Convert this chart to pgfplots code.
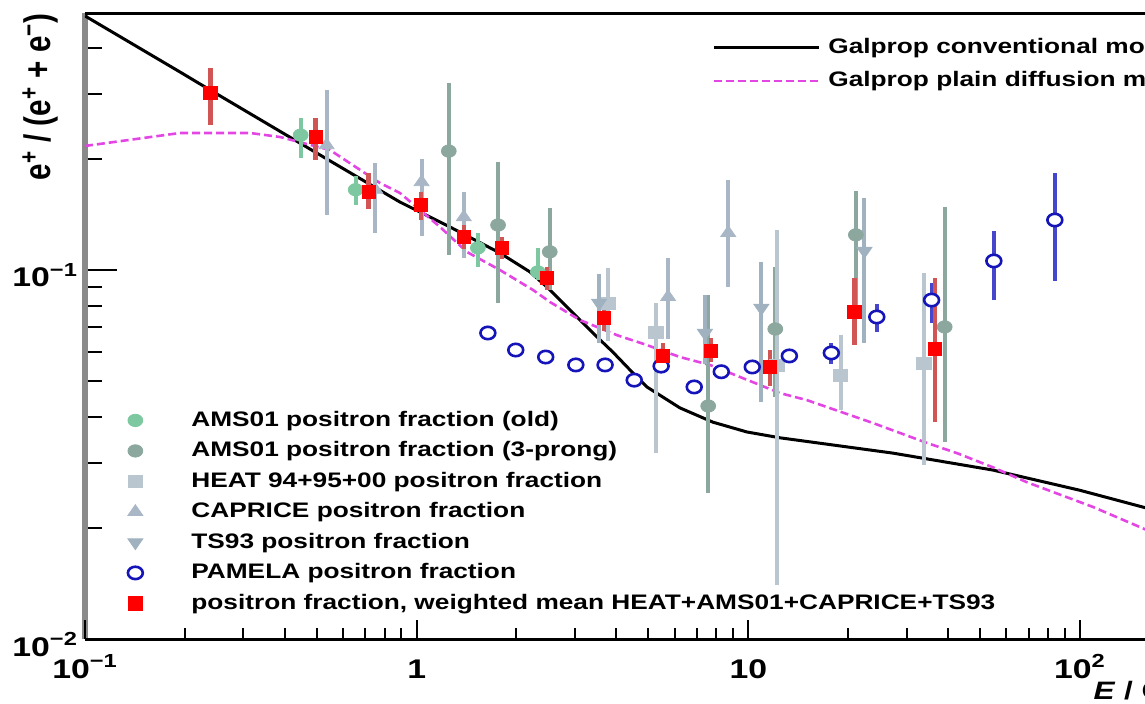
\documentclass[border=0pt]{standalone}
\usepackage{fontspec}
\setmainfont{Liberation Sans}[FakeStretch=1.25]
\newfontfamily\ylabfont{Liberation Sans}[FakeStretch=0.8]
\usepackage{pgfplots}
\usepackage{pgfplotstable}
\pgfplotsset{compat=1.18}

\definecolor{amsold}{RGB}{125,200,160}
\definecolor{amsthree}{RGB}{140,168,158}
\definecolor{heat}{RGB}{185,198,208}
\definecolor{caprice}{RGB}{168,182,198}
\definecolor{tsn}{RGB}{160,178,192}
\definecolor{pamela}{RGB}{20,20,185}
\definecolor{pamelabar}{RGB}{70,70,205}
\definecolor{wmean}{RGB}{255,0,0}
\definecolor{wmeanbar}{RGB}{210,85,85}
\definecolor{plain}{RGB}{228,70,228}
\definecolor{frame}{RGB}{138,138,138}

\newcommand{\tenpow}[1]{10\textsuperscript{#1}}

% Galprop model curves
\pgfplotstableread{
x y
0.1 0.488
0.1934 0.344
0.2383 0.3075
0.4937 0.2088
0.8906 0.1528
1.260 0.1308
1.782 0.1112
2.196 0.0988
2.471 0.0899
2.960 0.0765
3.400 0.0675
3.907 0.0599
4.488 0.0526
4.946 0.0482
6.220 0.0423
7.822 0.0387
9.904 0.0364
12.45 0.0351
27.29 0.0319
54.62 0.0287
99.9 0.0253
160 0.0226
}\tabConventional

\pgfplotstableread{
x y
0.1 0.2168
0.1934 0.2351
0.3146 0.2351
0.3872 0.2293
0.5478 0.2114
0.7749 0.1721
0.8906 0.1617
1.176 0.1308
1.418 0.1119
1.782 0.100
2.242 0.0883
2.523 0.0819
3.107 0.0732
4.018 0.0666
4.946 0.0626
6.220 0.0581
7.660 0.0553
9.434 0.0513
12.45 0.0464
15.02 0.0444
23.75 0.0385
34.55 0.0340
42.56 0.0319
54.62 0.0292
69.18 0.0266
109.4 0.0228
160 0.0197
}\tabPlain

% measurements: x, y, upper error, lower error
\pgfplotstableread{
x y ep em
0.447 0.232 0.026 0.031
0.655 0.165 0.015 0.015
1.53 0.1148 0.011 0.013
2.32 0.0988 0.016 0.005
}\tabAMSold

\pgfplotstableread{
x y ep em
1.25 0.210 0.111 0.100
1.76 0.1324 0.064 0.051
2.52 0.112 0.035 0.024
7.57 0.0428 0.043 0.018
12.06 0.0692 0.033 0.024
21.1 0.1245 0.039 0.045
39.1 0.0701 0.078 0.036
}\tabAMSthree

\pgfplotstableread{
x y ep em
3.78 0.0814 0.020 0.017
5.27 0.0679 0.0135 0.036
12.2 0.055 0.073 0.041
18.97 0.0519 0.0148 0.0101
33.8 0.0560 0.042 0.0264
}\tabHEAT

\pgfplotstableread{
x y ep em
0.535 0.218 0.090 0.077
0.751 0.165 0.030 0.039
1.035 0.173 0.027 0.049
1.387 0.139 0.024 0.031
5.73 0.0845 0.0235 0.0195
8.70 0.126 0.049 0.036
}\tabCAPRICE

\pgfplotstableread{
x y ep em
3.55 0.0814 0.016 0.018
7.40 0.0675 0.018 0.012
10.95 0.0789 0.026 0.035
22.4 0.1126 0.044 0.049
}\tabTS

\pgfplotstableread{
x y ep em
1.64 0.0675 0 0
1.99 0.0607 0 0
2.45 0.0581 0 0
3.02 0.0553 0 0
3.70 0.0553 0 0
4.53 0.0503 0 0
5.46 0.0549 0 0
6.87 0.0482 0 0
8.29 0.0530 0 0
10.28 0.0546 0 0
13.3 0.0585 0 0
17.8 0.0596 0.004 0.004
24.4 0.0746 0.0063 0.0067
35.7 0.0829 0.0093 0.0111
55.0 0.1058 0.022 0.023
84.0 0.1366 0.047 0.043
}\tabPAMELA

\pgfplotstableread{
x y ep em
0.239 0.302 0.050 0.055
0.496 0.229 0.029 0.030
0.716 0.163 0.020 0.017
1.03 0.150 0.013 0.013
1.387 0.123 0.009 0.009
1.81 0.115 0.008 0.008
2.47 0.0951 0.007 0.007
3.67 0.0741 0.0064 0.0056
5.54 0.0585 0.005 0.005
7.73 0.0603 0.005 0.004
11.65 0.0546 0.006 0.006
20.9 0.0769 0.018 0.0143
36.5 0.0611 0.034 0.0224
}\tabMean

\begin{document}
\begin{tikzpicture}
\useasboundingbox (-42.5pt,-32pt) rectangle (530pt,319.5pt);
\clip (-42.5pt,-32pt) rectangle (530pt,319.5pt);

% model curves, y ticks and the upper legend
\begin{axis}[
  xmode=log, ymode=log, scale only axis,
  width=663.3pt, height=313pt,
  xmin=0.1, xmax=1000, ymin=0.01, ymax=0.497,
  separate axis lines,
  tick align=inside,
  xtick pos=left, ytick pos=left,
  tick style={black, line width=1pt},
  tick label style={font=\fontsize{13.5}{15}\selectfont\bfseries},
  xtick=\empty,
  ytick={0.01,0.1}, yticklabels={\tenpow{−2},\tenpow{−1}},
  minor ytick={0.02,0.03,0.04,0.05,0.06,0.07,0.08,0.09,0.2,0.3,0.4},
  major tick length=16pt, minor tick length=8.5pt,
  x axis line style={draw=none},
  y axis line style={draw=frame, line width=3.4pt},
  yticklabel style={anchor=base east, yshift=-8.5pt},
  legend cell align=left,
  legend style={at={(axis description cs:0.4726,0.9617)}, anchor=north west,
    draw=none, fill=none, inner sep=0pt,
    font=\fontsize{10.5}{12}\selectfont\bfseries,
    row sep=6.8pt, column sep=4pt,
    nodes={inner sep=0pt, text height=8pt, text depth=2pt}},
  legend image code/.code={\path[draw=none, fill=none] (0pt,-5pt) rectangle (52.5pt,5pt);
    \draw[#1] (0pt,0pt) -- (52.5pt,0pt);},
]
\addplot[black, line width=1.5pt] table[x=x, y=y] {\tabConventional};
\addlegendentry{Galprop conventional model}
\addplot[plain, line width=1.3pt, dash pattern=on 4pt off 2pt] table[x=x, y=y] {\tabPlain};
\addlegendentry{Galprop plain diffusion model}
\end{axis}

% measurements, x ticks, labels and the lower legend
\begin{axis}[
  xmode=log, ymode=log, scale only axis,
  width=663.3pt, height=313pt,
  xmin=0.1, xmax=1000, ymin=0.01, ymax=0.497,
  separate axis lines,
  tick align=inside,
  xtick pos=left, ytick pos=left,
  tick style={black, line width=1pt},
  tick label style={font=\fontsize{13.5}{15}\selectfont\bfseries},
  ytick=\empty,
  xtick={0.1,1,10,100}, xticklabels={\tenpow{−1},1,10,\tenpow{2}},
  minor xtick={0.2,0.3,0.4,0.5,0.6,0.7,0.8,0.9,2,3,4,5,6,7,8,9,20,30,40,50,60,70,80,90,200,300,400,500,600,700,800,900},
  major tick length=9.5pt, minor tick length=5.5pt,
  x axis line style={draw=black, line width=1.5pt},
  y axis line style={draw=none},
  xticklabel style={anchor=base, yshift=-19.5pt},
  xlabel={\textit{E} / GeV},
  xlabel style={at={(axis description cs:0.760,-0.0974)}, anchor=base west,
    inner sep=0pt, font=\fontsize{12.6}{14}\selectfont\bfseries},
  ylabel={e\textsuperscript{+} / (e\textsuperscript{+} + e\textsuperscript{−})},
  ylabel style={at={(axis description cs:-0.0339,1.0)}, anchor=east,
    inner sep=0pt, font=\ylabfont\bfseries\fontsize{18.5}{20}\selectfont},
  legend cell align=left,
  legend style={at={(axis description cs:0.0256,0.3658)}, anchor=north west,
    draw=none, fill=none, inner sep=0pt,
    font=\fontsize{10.5}{12}\selectfont\bfseries,
    row sep=5.25pt, column sep=20pt,
    nodes={inner sep=0pt, text height=8pt, text depth=2pt}},
  legend image code/.code={\path[draw=none, fill=none] (0pt,-5pt) rectangle (16pt,5pt);
    \draw[#1] plot coordinates {(8pt,0pt)};},
  error bars/y dir=both, error bars/y explicit, error bars/error mark=none,
]
\addplot[only marks, mark=*, mark size=3.1pt,
  mark options={draw=amsold, fill=amsold, xscale=1.2},
  error bars/error bar style={line width=2pt, color=amsold}]
  table[x=x, y=y, y error plus=ep, y error minus=em] {\tabAMSold};
\addlegendentry{AMS01 positron fraction (old)}
\addplot[only marks, mark=*, mark size=3.1pt,
  mark options={draw=amsthree, fill=amsthree, xscale=1.2},
  error bars/error bar style={line width=2pt, color=amsthree}]
  table[x=x, y=y, y error plus=ep, y error minus=em] {\tabAMSthree};
\addlegendentry{AMS01 positron fraction (3-prong)}
\addplot[only marks, mark=square*, mark size=3pt,
  mark options={draw=heat, fill=heat, xscale=1.2},
  error bars/error bar style={line width=2pt, color=heat}]
  table[x=x, y=y, y error plus=ep, y error minus=em] {\tabHEAT};
\addlegendentry{HEAT 94+95+00 positron fraction}
\addplot[only marks, mark=triangle*, mark size=3.6pt,
  mark options={draw=caprice, fill=caprice, xscale=1.2},
  error bars/error bar style={line width=2pt, color=caprice}]
  table[x=x, y=y, y error plus=ep, y error minus=em] {\tabCAPRICE};
\addlegendentry{CAPRICE positron fraction}
\addplot[only marks, mark=triangle*, mark size=3.6pt,
  mark options={draw=tsn, fill=tsn, rotate=180, xscale=1.2},
  error bars/error bar style={line width=2pt, color=tsn}]
  table[x=x, y=y, y error plus=ep, y error minus=em] {\tabTS};
\addlegendentry{TS93 positron fraction}
\addplot[only marks, mark=*, mark size=3.1pt,
  mark options={draw=pamela, fill=white, line width=1.3pt, xscale=1.2},
  error bars/error bar style={line width=2pt, color=pamelabar}]
  table[x=x, y=y, y error plus=ep, y error minus=em] {\tabPAMELA};
\addlegendentry{PAMELA positron fraction}
\addplot[only marks, mark=square*, mark size=3.3pt,
  mark options={draw=wmean, fill=wmean},
  error bars/error bar style={line width=2.2pt, color=wmeanbar}]
  table[x=x, y=y, y error plus=ep, y error minus=em] {\tabMean};
\addlegendentry{positron fraction, weighted mean HEAT+AMS01+CAPRICE+TS93}
\end{axis}
\end{tikzpicture}
\end{document}
